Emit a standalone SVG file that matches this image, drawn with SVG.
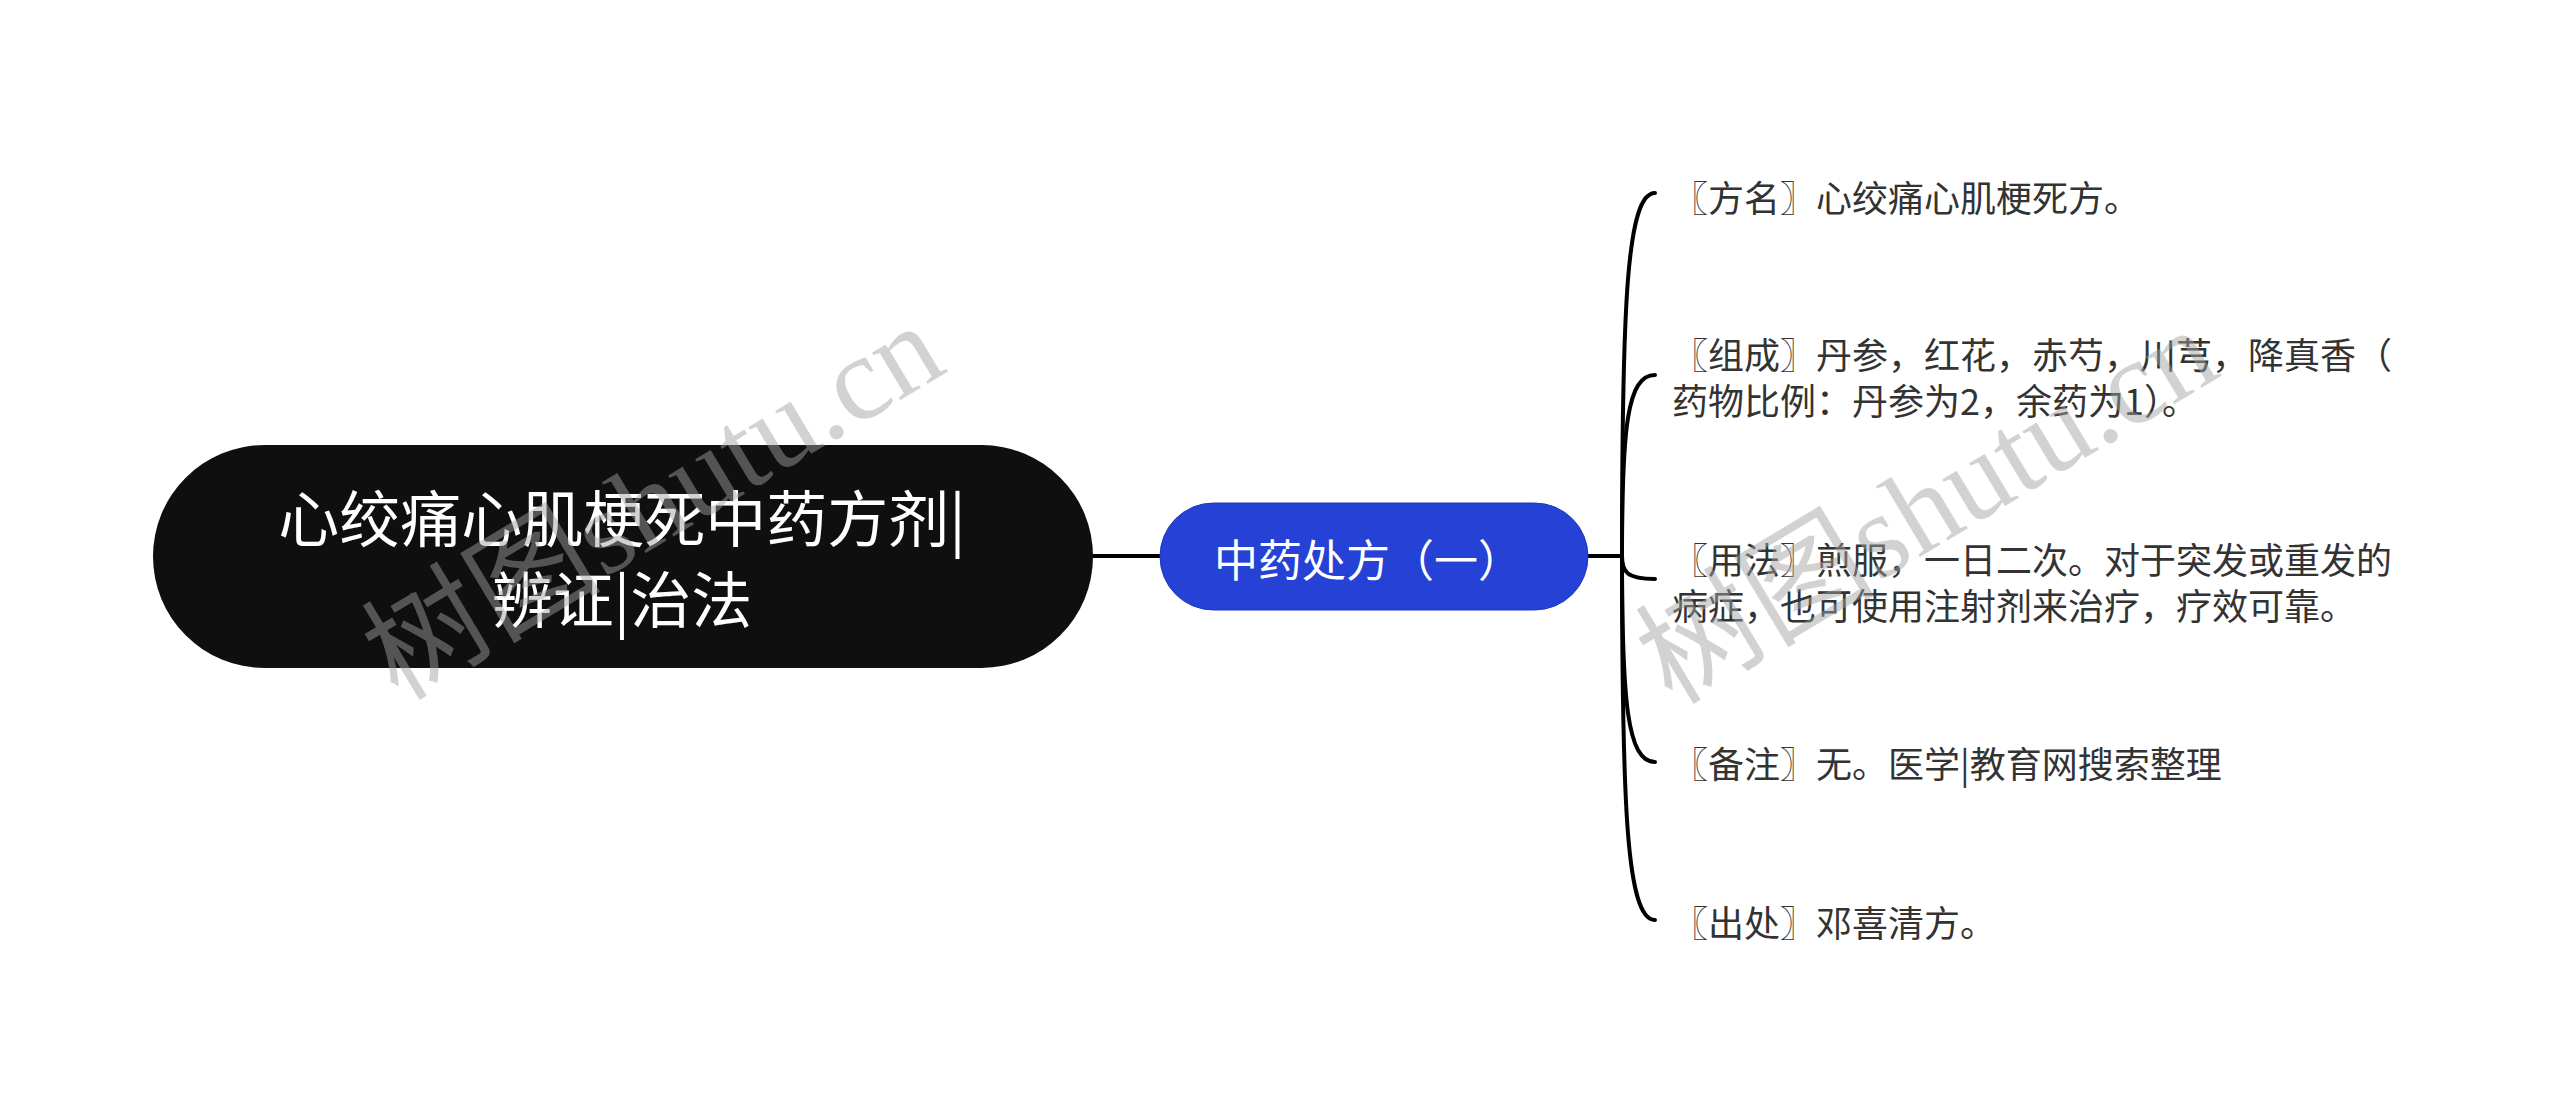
<svg xmlns="http://www.w3.org/2000/svg" width="2560" height="1114" viewBox="0 0 2560 1114">
  <style>
    .cjk { font-family: "Noto Sans CJK SC", "Noto Sans", sans-serif; }
    .root-text { fill: #ffffff; font-size: 61px; }
    .mid-text { fill: #ffffff; font-size: 44px; }
    .leaf-text { fill: #333333; font-size: 36px; }
    .conn { fill: none; stroke: #000000; stroke-width: 4; stroke-linecap: round; }
    .wm { font-family: "Liberation Serif", "Noto Sans CJK SC", serif; font-size: 120px; fill: #a0a0a0; fill-opacity: 0.48; }
  </style>
  <rect x="0" y="0" width="2560" height="1114" fill="#ffffff"/>

  <g id="connectors">
    <path class="conn" d="M1093 556 L1160 556"/>
    <path class="conn" d="M1588 556 L1622 556"/>
    <path class="conn" d="M1622 556 C1622 302 1627 193 1655 193"/>
    <path class="conn" d="M1622 556 C1622 429 1627 375 1655 375"/>
    <path class="conn" d="M1622 556 C1622 572 1627 579 1655 579"/>
    <path class="conn" d="M1622 556 C1622 700 1627 762 1655 762"/>
    <path class="conn" d="M1622 556 C1622 811 1627 920 1655 920"/>
  </g>

  <g id="node-root">
    <rect x="153" y="445" width="940" height="223" rx="111.5" ry="111.5" fill="#0f0f0f"/>
    <text class="cjk root-text" x="622" y="515" text-anchor="middle" dominant-baseline="central">心绞痛心肌梗死中药方剂|</text>
    <text class="cjk root-text" x="622" y="596" text-anchor="middle" dominant-baseline="central">辨证|治法</text>
  </g>

  <g id="node-prescription">
    <rect x="1160" y="503" width="428" height="107" rx="53.5" ry="53.5" fill="#2541d6" stroke="#1f38bd" stroke-width="1"/>
    <text class="cjk mid-text" x="1214" y="558" dominant-baseline="central">中药处方（一）</text>
  </g>

  <g id="leaf-fangming">
    <text class="cjk leaf-text" x="1672" y="196" dominant-baseline="central">〖方名〗心绞痛心肌梗死方。</text>
  </g>

  <g id="leaf-zucheng">
    <text class="cjk leaf-text" x="1672" y="353" dominant-baseline="central">〖组成〗丹参，红花，赤芍，川芎，降真香（</text>
    <text class="cjk leaf-text" x="1672" y="399" dominant-baseline="central">药物比例：丹参为2，余药为1）。</text>
  </g>

  <g id="leaf-yongfa">
    <text class="cjk leaf-text" x="1672" y="558" dominant-baseline="central">〖用法〗煎服，一日二次。对于突发或重发的</text>
    <text class="cjk leaf-text" x="1672" y="604" dominant-baseline="central">病症，也可使用注射剂来治疗，疗效可靠。</text>
  </g>

  <g id="leaf-beizhu">
    <text class="cjk leaf-text" x="1672" y="762" dominant-baseline="central">〖备注〗无。医学|教育网搜索整理</text>
  </g>

  <g id="leaf-chuchu">
    <text class="cjk leaf-text" x="1672" y="921" dominant-baseline="central">〖出处〗邓喜清方。</text>
  </g>

  <g id="watermarks">
    <text class="wm" transform="translate(398 702) rotate(-31)">树图shutu.cn</text>
    <text class="wm" transform="translate(1672 706) rotate(-31)">树图shutu.cn</text>
  </g>
</svg>
